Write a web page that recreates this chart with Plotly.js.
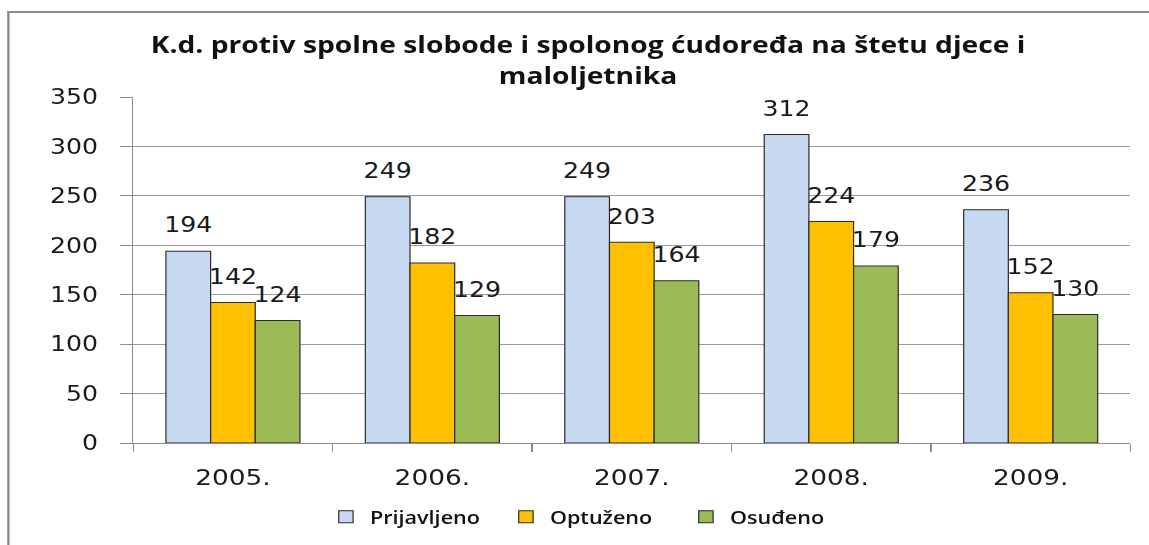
<!DOCTYPE html>
<html>
<head>
<meta charset="utf-8">
<script src="https://cdn.plot.ly/plotly-3.0.1.min.js"></script>
<style>
  html, body { margin: 0; padding: 0; background: #fff; overflow: hidden; }
  #wrap { position: absolute; left: 0; top: 0; width: 958px; height: 545px; transform: scaleX(1.2); transform-origin: 0 0; }
  #frame { position: absolute; left: 6px; top: 11px; width: 960px; height: 560px; border-left: 2px solid #8a8a8a; border-top: 2px solid #8a8a8a; pointer-events: none; }
  #chart { position: absolute; left: 0; top: 0; width: 958px; height: 545px; }
</style>
</head>
<body>
<div id="wrap">
  <div id="chart"></div>
  <div id="frame"></div>
</div>
<script>
const years = ['2005.', '2006.', '2007.', '2008.', '2009.'];
const prijavljeno = [194, 249, 249, 312, 236];
const optuzeno = [142, 182, 203, 224, 152];
const osudeno = [124, 129, 164, 179, 130];
const seriesNames = ['Prijavljeno', 'Optuženo', 'Osuđeno'];
const seriesColors = ['#C6D9F1', '#FFC000', '#9BBB59'];
const seriesValues = [prijavljeno, optuzeno, osudeno];

const traces = [];
seriesValues.forEach((vals, i) => {
  traces.push({
    type: 'bar', x: years, y: vals, name: seriesNames[i],
    marker: { color: seriesColors[i], line: { color: '#2a2a2a', width: 1 } },
    hoverinfo: 'skip'
  });
});
seriesValues.forEach((vals, i) => {
  traces.push({
    type: 'scatter', mode: 'markers+text', x: years, y: vals,
    text: vals.map(String), textposition: 'top center',
    marker: { size: 20, opacity: 0 },
    textfont: { family: 'DejaVu Sans', size: 21, color: '#1a1a1a' },
    showlegend: false, hoverinfo: 'skip', cliponaxis: false
  });
});

const layout = {
  width: 958, height: 545,
  paper_bgcolor: 'rgba(0,0,0,0)', plot_bgcolor: '#fff',
  margin: { l: 111, r: 16, t: 97, b: 102 },
  barmode: 'group', bargap: 0.328, bargroupgap: 0,
  scattermode: 'group', scattergap: 0.328,
  title: {
    text: 'K.d. protiv spolne slobode i spolonog ćudoređa na štetu djece i<br>maloljetnika',
    font: { family: 'Open Sans', size: 23.5, color: '#111', weight: 'bold' },
    x: 0.5115, xanchor: 'center', xref: 'container',
    y: 1 - 53 / 545, yanchor: 'top', yref: 'container', automargin: false
  },
  xaxis: {
    type: 'category', tickson: 'boundaries', ticks: 'outside', ticklen: 8, tickcolor: '#8c8c8c',
    showline: true, linecolor: '#8c8c8c', linewidth: 1, showgrid: false,
    tickfont: { family: 'DejaVu Sans', size: 22, color: '#1a1a1a' },
    ticklabelstandoff: 15, fixedrange: true, automargin: false
  },
  yaxis: {
    range: [0, 350], dtick: 50, ticks: 'outside', ticklen: 10, tickcolor: '#8c8c8c',
    showline: true, linecolor: '#8c8c8c', linewidth: 1,
    showgrid: true, gridcolor: '#9a9a9a', gridwidth: 1, zeroline: false,
    tickfont: { family: 'DejaVu Sans', size: 21, color: '#1a1a1a' },
    ticklabelstandoff: 14, fixedrange: true, automargin: false
  },
  showlegend: true,
  legend: {
    orientation: 'h', x: 0.46, xanchor: 'center', xref: 'paper',
    y: 1 - 517 / 545, yanchor: 'middle', yref: 'container',
    font: { family: 'Open Sans', size: 18, color: '#111', weight: 600 },
    itemwidth: 30, entrywidth: 105, entrywidthmode: 'pixels', bgcolor: 'rgba(0,0,0,0)'
  }
};

Plotly.newPlot('chart', traces, layout, { staticPlot: true, displayModeBar: false });
</script>
</body>
</html>
